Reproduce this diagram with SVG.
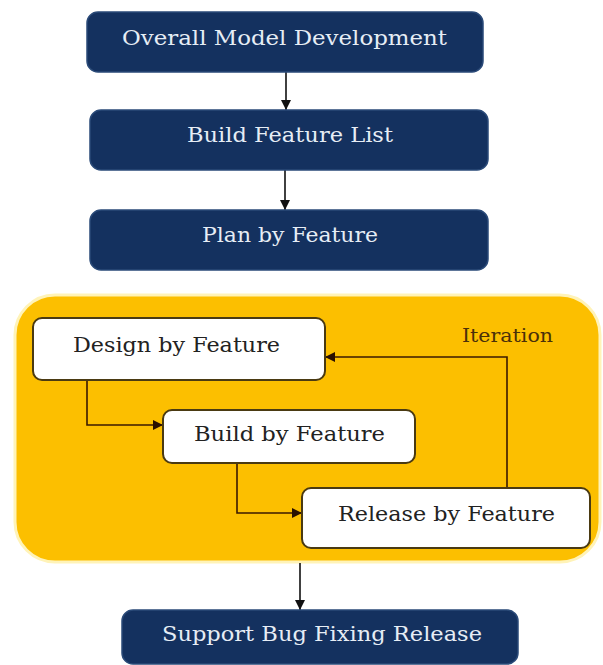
<svg xmlns="http://www.w3.org/2000/svg" width="603" height="665" viewBox="0 0 603 665">
<defs>
<style>
.navy{fill:#14315f;stroke:#2a4a78;stroke-width:1.5}
.navytxt{font-family:"DejaVu Serif","Liberation Serif",serif;font-size:21px;fill:#e6edf5}
.white{fill:#ffffff;stroke:#4a3a12;stroke-width:2}
.blacktxt{font-family:"DejaVu Serif","Liberation Serif",serif;font-size:21px;fill:#222222}
.itertxt{font-family:"DejaVu Serif","Liberation Serif",serif;font-size:19px;fill:#4a300a}
.conn{fill:none;stroke:#111111;stroke-width:1.6}
.conn2{fill:none;stroke:#3a1a00;stroke-width:1.6}
</style>
<marker id="ah" viewBox="0 0 10 10" refX="10" refY="5" markerWidth="10" markerHeight="10" markerUnits="userSpaceOnUse" orient="auto">
<path d="M0,0 L10,5 L0,10 z" fill="#111111"/>
</marker>
<marker id="ah2" viewBox="0 0 10 10" refX="10" refY="5" markerWidth="10" markerHeight="10" markerUnits="userSpaceOnUse" orient="auto">
<path d="M0,0 L10,5 L0,10 z" fill="#2a1000"/>
</marker>
</defs>
<rect width="603" height="665" fill="#ffffff"/>

<g id="iteration-panel">
<rect x="15" y="295" width="585" height="267" rx="40" fill="#fcbf00" stroke="#fff3b8" stroke-width="3"/>
<text class="itertxt" x="462" y="342" textLength="91" lengthAdjust="spacingAndGlyphs">Iteration</text>
</g>

<g id="connectors">
<line class="conn" x1="286" y1="72" x2="286" y2="110" marker-end="url(#ah)"/>
<line class="conn" x1="285" y1="170" x2="285" y2="210" marker-end="url(#ah)"/>
<polyline class="conn2" points="87,380 87,425 163,425" marker-end="url(#ah2)"/>
<polyline class="conn2" points="237,463 237,513 302,513" marker-end="url(#ah2)"/>
<polyline class="conn2" points="507,488 507,357 325,357" marker-end="url(#ah2)"/>
<line class="conn" x1="300" y1="563" x2="300" y2="610" marker-end="url(#ah)"/>
</g>

<g id="overall-model">
<rect class="navy" x="87" y="12" width="396" height="60" rx="11"/>
<text class="navytxt" x="122" y="45" textLength="325" lengthAdjust="spacingAndGlyphs">Overall Model Development</text>
</g>
<g id="build-feature-list">
<rect class="navy" x="90" y="110" width="398" height="60" rx="11"/>
<text class="navytxt" x="187" y="142" textLength="206" lengthAdjust="spacingAndGlyphs">Build Feature List</text>
</g>
<g id="plan-by-feature">
<rect class="navy" x="90" y="210" width="398" height="60" rx="11"/>
<text class="navytxt" x="202" y="242" textLength="176" lengthAdjust="spacingAndGlyphs">Plan by Feature</text>
</g>

<g id="design-by-feature">
<rect class="white" x="33" y="318" width="292" height="62" rx="9"/>
<text class="blacktxt" x="73" y="352" textLength="207" lengthAdjust="spacingAndGlyphs">Design by Feature</text>
</g>
<g id="build-by-feature">
<rect class="white" x="163" y="410" width="252" height="53" rx="9"/>
<text class="blacktxt" x="194" y="441" textLength="191" lengthAdjust="spacingAndGlyphs">Build by Feature</text>
</g>
<g id="release-by-feature">
<rect class="white" x="302" y="488" width="288" height="60" rx="9"/>
<text class="blacktxt" x="338" y="521" textLength="217" lengthAdjust="spacingAndGlyphs">Release by Feature</text>
</g>

<g id="support-bug-fixing">
<rect class="navy" x="122" y="610" width="396" height="54" rx="11"/>
<text class="navytxt" x="162" y="641" textLength="320" lengthAdjust="spacingAndGlyphs">Support Bug Fixing Release</text>
</g>
</svg>
